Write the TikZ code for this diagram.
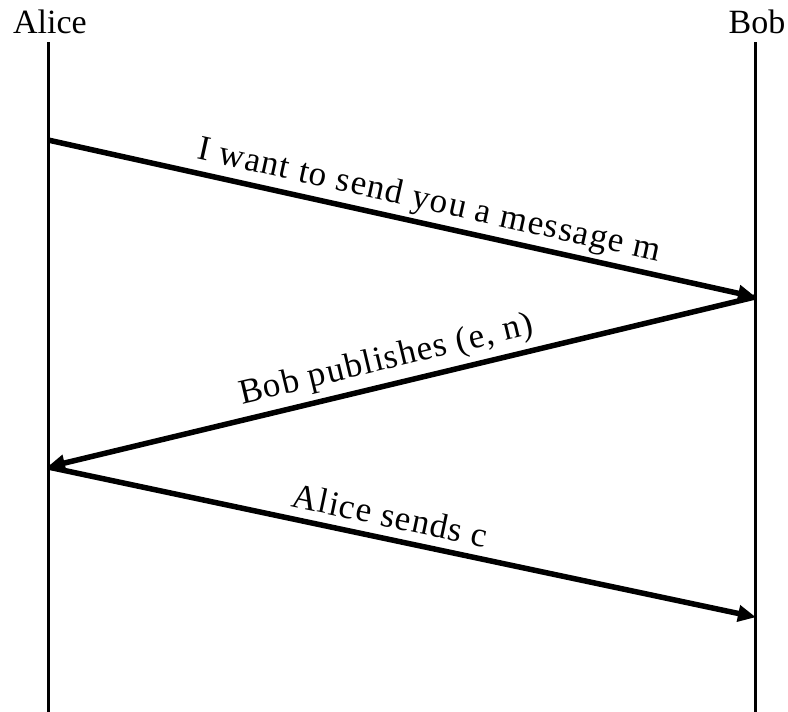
\documentclass[tikz,border=0pt]{standalone}
\usepackage{fontspec}
\setmainfont{Liberation Serif}
\newfontfamily\labelfont[LetterSpace=3.5]{Liberation Serif}
\usetikzlibrary{arrows.meta}
\begin{document}
\begin{tikzpicture}[x=1pt,y=-1pt,
  lifeline/.style={line width=3pt},
  msg/.style={line width=5.5pt,-{Triangle[length=18pt,width=16pt]}, shorten >=-1pt},
  lbl/.style={font=\labelfont\fontsize{35}{38}\selectfont, sloped, above, text depth=8pt, inner sep=3pt},
  who/.style={font=\fontsize{34}{38}\selectfont}]
\useasboundingbox (0,0) rectangle (788,712);
\node[who] (alice) at (50,22) {Alice};
\node[who] (bob) at (757,22) {Bob};
\coordinate (atop) at (48,42);
\coordinate (abot) at (48,712);
\coordinate (btop) at (755,42);
\coordinate (bbot) at (755,712);
\draw[lifeline] (atop) -- (abot);
\draw[lifeline] (btop) -- (bbot);
\coordinate (a1) at (48,140);
\coordinate (b1) at (755,297);
\coordinate (a2) at (48,467);
\coordinate (b2) at (755,617);
\draw[msg] (a1) -- node[lbl, pos=0.532] (l1) {I want to send you a message m} (b1);
\draw[msg] (b1) -- node[lbl, pos=0.513, inner sep=5pt] (l2) {Bob publishes (e, n)} (a2);
\draw[msg] (a2) -- node[lbl, pos=0.477, inner sep=1pt] (l3) {Alice sends c} (b2);
\end{tikzpicture}
\end{document}
